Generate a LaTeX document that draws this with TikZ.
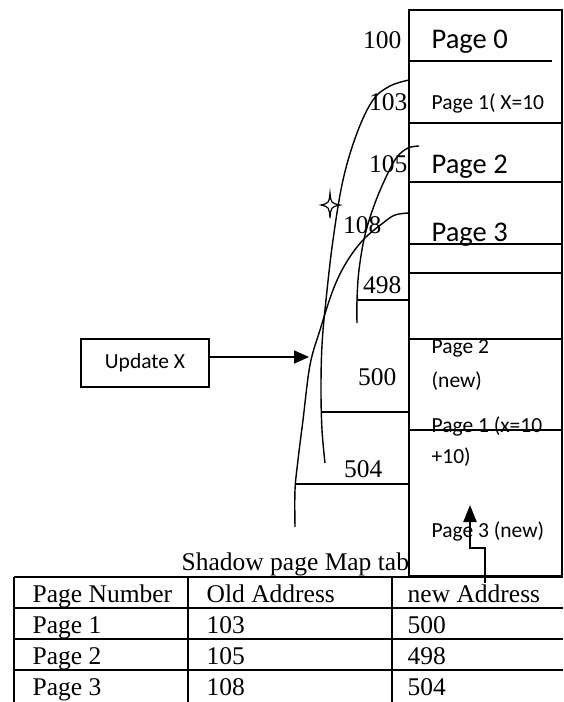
\documentclass[tikz,border=0pt]{standalone}
\usepackage{fontspec}
\setmainfont{Liberation Serif}
\newfontfamily\calfont{Carlito}
\usetikzlibrary{arrows.meta}
\begin{document}
\begin{tikzpicture}[x=1pt,y=-1pt,line width=1.4pt,
  tm/.style={inner sep=0pt,font=\fontsize{25.5}{25.5}\selectfont},
  cbs/.style={inner sep=0pt,font=\calfont\fontsize{21.5}{21.5}\selectfont},
  cbb/.style={inner sep=0pt,font=\calfont\fontsize{28.5}{28.5}\selectfont},
  curve/.style={line width=1.4pt},
  arr/.style={line width=1.8pt,-{Triangle[length=15pt,width=13pt]}}]
\useasboundingbox (0,0) rectangle (563,702);
% table
\foreach \yy in {577,608,639,670} \draw (14,\yy) -- (563,\yy);
\foreach \xx in {14,188,392} \draw (\xx,577) -- (\xx,702);
\node[tm,anchor=base west] (cap) at (181,570) {Shadow page Map tab};
\node[tm,anchor=base west] (h1) at (32,602) {Page Number};
\node[tm,anchor=base west] (h2) at (206,602) {Old Address};
\node[tm,anchor=base west] (h3) at (407,602) {new Address};
\node[tm,anchor=base west] (r11) at (32,633) {Page 1};
\node[tm,anchor=base west] (r12) at (206,633) {103};
\node[tm,anchor=base west] (r13) at (407,633) {500};
\node[tm,anchor=base west] (r21) at (32,664) {Page 2};
\node[tm,anchor=base west] (r22) at (206,664) {105};
\node[tm,anchor=base west] (r23) at (407,664) {498};
\node[tm,anchor=base west] (r31) at (32,695) {Page 3};
\node[tm,anchor=base west] (r32) at (206,695) {108};
\node[tm,anchor=base west] (r33) at (407,695) {504};
% memory column
\draw[fill=white] (409,10) rectangle (562,576);
\draw (409,61) -- (552,61);
\foreach \yy in {123,182,244,273,339,430} \draw (409,\yy) -- (562,\yy);
\node[cbb,anchor=base west] (p0) at (431,48) {Page 0};
\node[cbs,anchor=base west] (p1) at (431,109) {Page 1( X=10};
\node[cbb,anchor=base west] (p2) at (431,173) {Page 2};
\node[cbb,anchor=base west] (p3) at (431,241) {Page 3};
\node[cbs,anchor=base west] (p2n) at (431,353) {Page 2};
\node[cbs,anchor=base west] (p2nb) at (431,387) {(new)};
\node[cbs,anchor=base west] (p1n) at (431,432) {Page 1 (x=10};
\node[cbs,anchor=base west] (p1nb) at (431,463) {+10)};
\node[cbs,anchor=base west] (p3n) at (431,537) {Page 3 (new)};
% address labels
\node[tm,anchor=base east] (a100) at (402,48.5) {100};
\node[tm,anchor=base east] (a103) at (408,110) {103};
\node[tm,anchor=base east] (a105) at (408,172) {105};
\node[tm,anchor=base east] (a108) at (382,233) {108};
\node[tm,anchor=base east] (a498) at (402,293) {498};
\node[tm,anchor=base east] (a500) at (397,385) {500};
\node[tm,anchor=base east] (a504) at (383,477) {504};
% address lines
\draw (357,300) -- (409,300);
\draw (321,412) -- (409,412);
\draw (295,484) -- (409,484);
% curves
\coordinate (sA) at (409,80);
\coordinate (eA) at (325,463);
\coordinate (sB) at (419,146);
\coordinate (eB) at (357,323);
\coordinate (sC) at (409,213);
\coordinate (eC) at (295,527);
\draw[curve] plot[smooth,tension=0.6] coordinates {(sA) (390,86) (373,100) (357,133) (343,180) (333,240) (326,300) (322,345) (321,390) (322,430) (eA)};
\draw[curve] plot[smooth,tension=0.6] coordinates {(sB) (408,148) (397,157) (387,175) (375,203) (365,235) (359,270) (357,300) (eB)};
\draw[curve] plot[smooth,tension=0.6] coordinates {(sC) (395,215) (383,223) (363,240) (346,263) (333,290) (320,330) (310,365) (303,420) (298,460) (295,490) (eC)};
% star
\draw[line width=1.2pt] (330,193) .. controls (331,203) .. (340,205) .. controls (331,207) .. (330,218) .. controls (329,207) .. (321,205) .. controls (329,203) .. (330,193) -- cycle;
% update box and arrows
\node[draw,cbs,minimum width=128pt,minimum height=48pt,inner sep=0pt] (upd) at (145,363) {Update X};
\coordinate (tipA) at (309,357);
\draw[arr] ([yshift=6pt]upd.east) -- (tipA);
\coordinate (s2) at (485,583);
\coordinate (tip2) at (470,505);
\draw[arr,line width=2.2pt,-{Triangle[length=17pt,width=13pt]}] (s2) -- (485,548) -- (470,548) -- (tip2);
\end{tikzpicture}
\end{document}
